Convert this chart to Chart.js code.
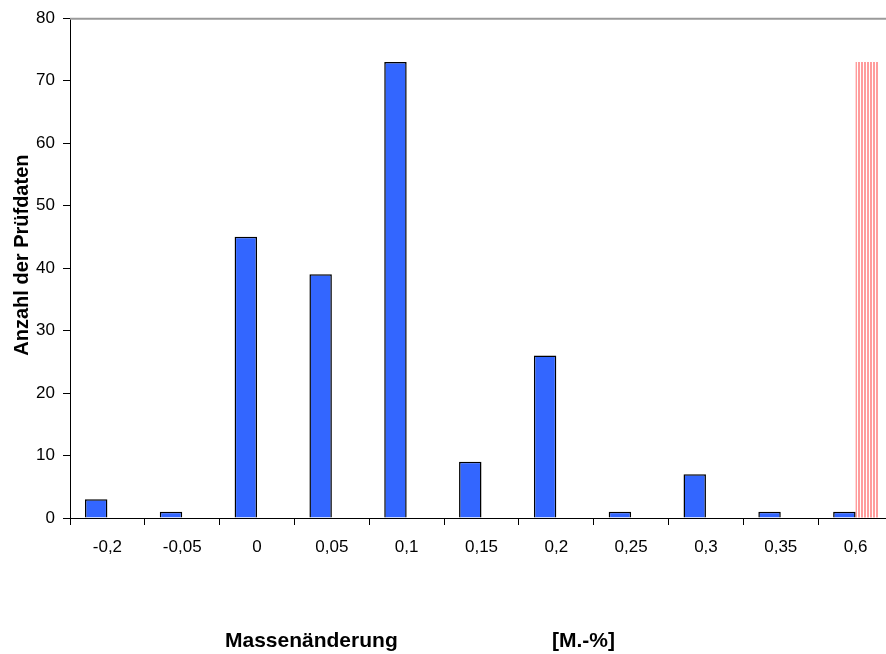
<!DOCTYPE html>
<html>
<head>
<meta charset="utf-8">
<script src="https://cdn.jsdelivr.net/npm/chart.js@4/dist/chart.umd.min.js"></script>
<style>
  html, body { margin: 0; padding: 0; background: #fff; overflow: hidden; }
</style>
</head>
<body>
<canvas id="graphCanvas" width="893" height="654"></canvas>
<script>
// Massenänderung [M.-%] -> Anzahl der Prüfdaten
var categories = ["-0,2", "-0,05", "0", "0,05", "0,1", "0,15", "0,2", "0,25", "0,3", "0,35", "0,6"];
var counts = [3, 1, 45, 39, 73, 9, 26, 1, 7, 1, 1];
var marker = [null, null, null, null, null, null, null, null, null, null, 73];
var yTicks = [0, 10, 20, 30, 40, 50, 60, 70, 80];

var yTitle = "Anzahl der Prüfdaten";
var xTitle = "Massenänderung";
var xUnit = "[M.-%]";

function stripes() {
  var c = document.createElement("canvas");
  c.width = 3;
  c.height = 1;
  var g = c.getContext("2d");
  g.fillStyle = "#ffffff";
  g.fillRect(0, 0, 3, 1);
  g.fillStyle = "#ff9c9c";
  g.fillRect(0, 0, 2, 1);
  return g.createPattern(c, "repeat");
}

var frame = {
  id: "frame",
  afterDraw: function (chart) {
    var ctx = chart.ctx;
    var a = chart.chartArea;
    ctx.save();
    ctx.strokeStyle = "#9a9a9a";
    ctx.lineWidth = 2;
    ctx.beginPath();
    ctx.moveTo(a.left, a.top + 0.5);
    ctx.lineTo(a.right, a.top + 0.5);
    ctx.stroke();

    ctx.fillStyle = "#000";
    ctx.font = "bold 20px 'Liberation Sans', Arial, sans-serif";
    ctx.textAlign = "center";
    ctx.textBaseline = "middle";
    ctx.translate(a.left - 48, (a.top + a.bottom) / 2 - 13);
    ctx.rotate(-Math.PI / 2);
    ctx.fillText(yTitle, 0, 0);
    ctx.restore();

    ctx.save();
    ctx.fillStyle = "#000";
    ctx.font = "bold 21px 'Liberation Sans', Arial, sans-serif";
    ctx.textAlign = "left";
    ctx.textBaseline = "alphabetic";
    ctx.fillText(xTitle, a.left + 155, a.bottom + 129);
    ctx.fillText(xUnit, a.left + 482, a.bottom + 129);
    ctx.restore();
  }
};

var tickFont = { family: "'Liberation Sans', Arial, sans-serif", size: 17 };

new Chart(document.getElementById("graphCanvas"), {
  type: "bar",
  data: {
    labels: categories,
    datasets: [
      {
        label: "Anzahl",
        data: counts,
        backgroundColor: "#3366ff",
        borderColor: "#000000",
        borderWidth: 1.5,
        categoryPercentage: 0.6,
        barPercentage: 1
      },
      {
        label: "Marke",
        data: marker,
        backgroundColor: stripes(),
        borderWidth: 0,
        categoryPercentage: 0.6,
        barPercentage: 1
      }
    ]
  },
  options: {
    responsive: false,
    animation: false,
    layout: { padding: { top: 16, left: 0, right: 0, bottom: 0 } },
    plugins: {
      legend: { display: false },
      tooltip: { enabled: false }
    },
    scales: {
      x: {
        grid: { drawOnChartArea: false, tickLength: 7, color: "#000", tickColor: "#000" },
        border: { color: "#000", width: 1 },
        ticks: { color: "#000", font: tickFont, padding: 12, maxRotation: 0 },
        afterFit: function (scale) { scale.height = 136; }
      },
      y: {
        min: yTicks[0],
        max: yTicks[yTicks.length - 1],
        grid: { drawOnChartArea: false, tickLength: 7, color: "#000", tickColor: "#000" },
        border: { color: "#000", width: 1 },
        ticks: { color: "#000", font: tickFont, padding: 8, stepSize: 10 },
        afterFit: function (scale) { scale.width = 70; }
      }
    }
  },
  plugins: [frame]
});
</script>
</body>
</html>
